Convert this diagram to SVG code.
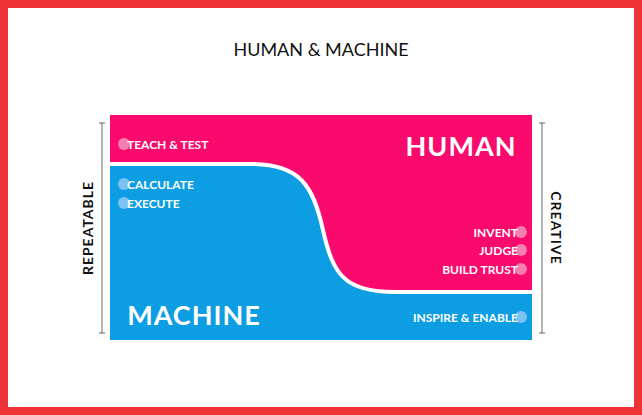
<svg xmlns="http://www.w3.org/2000/svg" width="642" height="415" viewBox="0 0 642 415">
<style>
.t{font-family:Lato,"Open Sans",sans-serif;font-weight:bold;fill:#fff}
.s{font-size:12px}
.b{font-size:27px}
.ax{font-family:Lato,"Open Sans",sans-serif;font-weight:bold;font-size:14px;fill:#111;letter-spacing:1px}
.ln{stroke:#666;stroke-width:1;fill:none}
.dp{fill:#f57fb0}
.db{fill:#7cc3f3}
</style>
<rect x="0" y="0" width="642" height="415" fill="#ee3338"/>
<rect x="8" y="8" width="626" height="399" fill="#fff"/>
<text x="321" y="56" text-anchor="middle" font-family="Lato,'Open Sans',sans-serif" font-size="18" fill="#111">HUMAN &amp; MACHINE</text>
<g id="areas">
<rect x="110" y="115" width="422" height="225" fill="#0c9de2"/>
<path d="M110,115 H532 V292 H395 C345,292 333,275 323,230 C313,185 300,164 250,164 H110 Z" fill="#fa0a6c"/>
<path d="M532,292 H395 C345,292 333,275 323,230 C313,185 300,164 250,164 H110" fill="none" stroke="#fff" stroke-width="4"/>
</g>
<g id="axes">
<path class="ln" d="M102,123 V333 M99,123 H105 M99,333 H105"/>
<path class="ln" d="M542,123 V333 M539,123 H545 M539,333 H545"/>
<text class="ax" transform="translate(93,228) rotate(-90)" text-anchor="middle">REPEATABLE</text>
<text class="ax" transform="translate(551,228) rotate(90)" text-anchor="middle">CREATIVE</text>
</g>
<g id="human"><text class="t b" x="461" y="156" text-anchor="middle" letter-spacing="1">HUMAN</text></g>
<g id="machine"><text class="t b" x="194" y="325" text-anchor="middle" letter-spacing="1">MACHINE</text></g>
<g id="teach"><circle class="dp" cx="124" cy="144" r="6"/><text class="t s" x="127" y="148.5">TEACH &amp; TEST</text></g>
<g id="calculate"><circle class="db" cx="124" cy="184" r="6"/><text class="t s" x="127" y="188.5">CALCULATE</text></g>
<g id="execute"><circle class="db" cx="124" cy="203" r="6"/><text class="t s" x="127" y="207.5">EXECUTE</text></g>
<g id="invent"><circle class="dp" cx="521" cy="232" r="6"/><text class="t s" x="518" y="236.5" text-anchor="end">INVENT</text></g>
<g id="judge"><circle class="dp" cx="521" cy="250" r="6"/><text class="t s" x="518" y="254.5" text-anchor="end">JUDGE</text></g>
<g id="trust"><circle class="dp" cx="521" cy="269" r="6"/><text class="t s" x="518" y="273.5" text-anchor="end">BUILD TRUST</text></g>
<g id="inspire"><circle class="db" cx="521" cy="317" r="6"/><text class="t s" x="518" y="321.5" text-anchor="end">INSPIRE &amp; ENABLE</text></g>
</svg>
